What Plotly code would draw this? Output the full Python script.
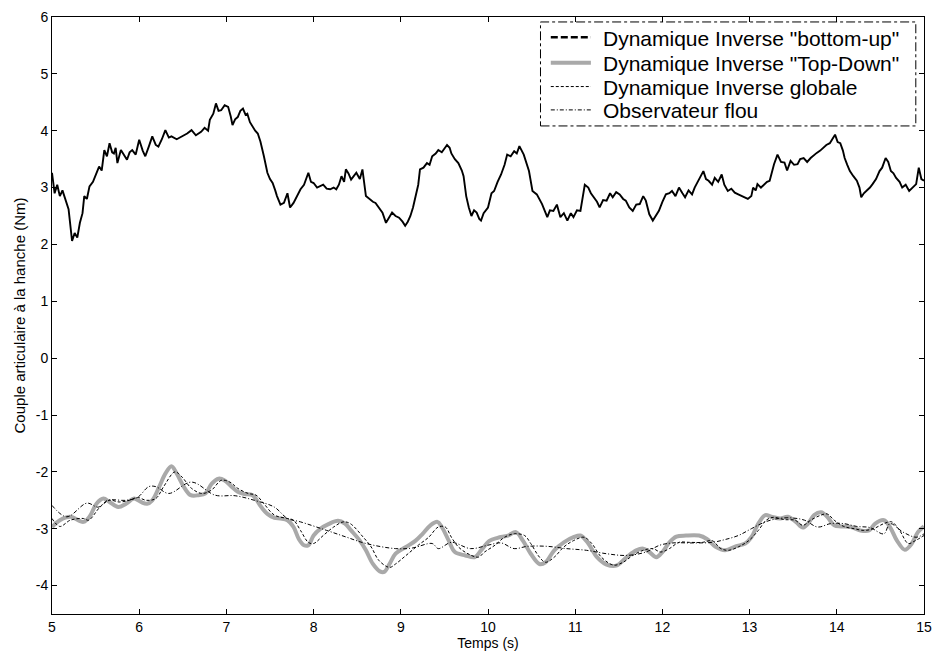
import plotly.graph_objects as go

# ---------------- data ----------------
bu_t = [5.00,5.03,5.06,5.09,5.12,5.15,5.19,5.23,5.26,5.29,5.32,5.35,5.37,5.40,5.43,5.47,5.51,5.54,5.57,5.60,
        5.63,5.66,5.69,5.71,5.73,5.75,5.79,5.83,5.86,5.89,5.92,5.96,6.00,6.04,6.07,6.11,6.15,6.19,6.22,6.26,
        6.30,6.34,6.37,6.43,6.49,6.55,6.60,6.65,6.71,6.75,6.79,6.81,6.85,6.88,6.91,6.94,6.98,7.02,7.05,7.07,
        7.10,7.13,7.16,7.19,7.22,7.24,7.27,7.30,7.33,7.36,7.39,7.43,7.47,7.50,7.53,7.56,7.58,7.62,7.66,7.70,
        7.73,7.77,7.81,7.85,7.89,7.94,7.97,8.00,8.04,8.07,8.11,8.15,8.19,8.23,8.26,8.29,8.32,8.35,8.37,8.40,
        8.43,8.46,8.49,8.53,8.56,8.60,8.64,8.68,8.71,8.75,8.79,8.83,8.86,8.90,8.94,8.98,9.02,9.05,9.08,9.11,
        9.14,9.17,9.20,9.22,9.26,9.30,9.33,9.36,9.40,9.43,9.47,9.53,9.56,9.58,9.62,9.66,9.70,9.72,9.75,9.78,
        9.81,9.84,9.87,9.90,9.92,9.95,10.00,10.04,10.07,10.11,10.15,10.19,10.22,10.26,10.30,10.33,10.36,10.41,10.47,10.51,
        10.56,10.62,10.68,10.71,10.75,10.79,10.83,10.87,10.91,10.95,10.98,11.02,11.06,11.11,11.15,11.18,11.21,11.25,11.28,11.32,
        11.36,11.40,11.43,11.47,11.51,11.55,11.58,11.62,11.66,11.70,11.74,11.78,11.81,11.85,11.89,11.92,11.96,12.00,12.04,12.08,
        12.11,12.15,12.19,12.23,12.26,12.30,12.34,12.37,12.41,12.44,12.47,12.50,12.53,12.57,12.60,12.64,12.68,12.71,12.75,12.79,
        12.83,12.87,12.91,12.95,12.98,13.02,13.04,13.07,13.09,13.13,13.17,13.20,13.23,13.26,13.28,13.32,13.36,13.40,13.43,13.47,
        13.51,13.55,13.58,13.62,13.66,13.70,13.74,13.77,13.81,13.85,13.88,13.92,13.95,13.98,14.01,14.04,14.07,14.09,14.12,14.15,
        14.19,14.23,14.26,14.28,14.31,14.34,14.38,14.41,14.45,14.49,14.52,14.56,14.59,14.62,14.65,14.68,14.72,14.75,14.79,14.83,
        14.87,14.91,14.94,14.97,15.00]
bu_v = [3.26,2.90,3.05,2.85,2.95,2.79,2.62,2.06,2.20,2.12,2.38,2.55,2.85,2.80,3.02,3.10,3.26,3.37,3.30,3.66,
        3.55,3.78,3.62,3.60,3.70,3.43,3.66,3.55,3.49,3.62,3.66,3.58,3.84,3.65,3.55,3.72,3.90,3.75,3.72,3.85,
        4.01,3.88,3.90,3.85,3.90,3.95,4.01,3.92,3.98,4.05,4.00,4.19,4.30,4.48,4.35,4.36,4.45,4.42,4.25,4.10,
        4.20,4.24,4.35,4.39,4.28,4.30,4.15,4.07,4.00,3.95,3.81,3.55,3.26,3.15,3.08,2.95,2.85,2.70,2.73,2.90,
        2.65,2.73,2.85,2.97,3.05,3.26,3.10,3.08,3.00,3.02,3.05,2.98,2.97,3.00,2.97,3.05,3.20,3.10,3.32,3.25,
        3.14,3.20,3.26,3.15,3.32,2.85,2.80,2.75,2.73,2.65,2.56,2.38,2.45,2.56,2.50,2.47,2.40,2.33,2.40,2.50,
        2.65,2.85,3.05,3.32,3.35,3.43,3.40,3.55,3.60,3.66,3.62,3.75,3.70,3.60,3.50,3.43,3.30,3.20,2.85,2.65,
        2.50,2.60,2.56,2.45,2.42,2.55,2.65,2.90,2.94,3.10,3.23,3.40,3.58,3.55,3.64,3.60,3.73,3.58,3.29,2.94,
        2.88,2.71,2.48,2.60,2.59,2.70,2.48,2.55,2.42,2.55,2.48,2.60,2.59,3.05,3.00,2.90,2.83,2.75,2.65,2.78,
        2.77,2.90,2.83,2.92,2.88,2.80,2.77,2.65,2.59,2.70,2.71,2.85,2.77,2.53,2.42,2.50,2.59,2.75,2.88,2.90,
        2.94,2.85,3.00,2.90,2.83,2.95,2.88,3.00,3.12,3.20,3.29,3.15,3.12,3.05,3.17,3.10,3.23,3.05,2.94,2.98,
        2.91,2.88,2.85,2.82,2.80,2.85,3.00,2.95,3.06,3.00,3.06,3.10,3.12,3.30,3.41,3.58,3.45,3.44,3.30,3.47,
        3.40,3.41,3.50,3.52,3.45,3.52,3.58,3.61,3.65,3.70,3.75,3.78,3.85,3.93,3.80,3.78,3.65,3.52,3.40,3.29,
        3.20,3.12,3.00,2.83,2.90,2.94,3.00,3.06,3.15,3.29,3.35,3.52,3.45,3.29,3.25,3.17,3.10,3.00,3.05,2.94,
        3.00,3.06,3.35,3.15,3.12]

td_t = [5.00,5.09,5.21,5.36,5.43,5.51,5.59,5.66,5.76,5.85,5.94,6.02,6.09,6.15,6.23,6.30,6.37,6.43,6.51,6.59,
        6.68,6.76,6.83,6.91,6.98,7.06,7.13,7.21,7.30,7.40,7.47,7.55,7.62,7.70,7.77,7.83,7.89,7.94,8.00,8.08,
        8.17,8.28,8.36,8.43,8.53,8.60,8.68,8.76,8.81,8.87,8.94,9.06,9.17,9.25,9.34,9.42,9.47,9.55,9.62,9.74,
        9.85,9.92,10.02,10.11,10.23,10.32,10.40,10.49,10.59,10.66,10.76,10.87,10.98,11.06,11.15,11.25,11.36,11.47,11.59,11.70,
        11.78,11.85,11.93,12.00,12.08,12.16,12.27,12.42,12.51,12.61,12.72,12.84,12.95,13.02,13.10,13.18,13.25,13.35,13.44,13.53,
        13.61,13.67,13.74,13.82,13.89,13.97,14.05,14.16,14.27,14.37,14.44,14.54,14.61,14.69,14.78,14.86,14.93,15.00]
td_v = [-2.97,-2.85,-2.79,-2.88,-2.79,-2.56,-2.47,-2.53,-2.62,-2.56,-2.47,-2.53,-2.56,-2.50,-2.26,-2.03,-1.90,-2.03,-2.26,-2.41,
        -2.41,-2.38,-2.21,-2.12,-2.15,-2.26,-2.35,-2.39,-2.41,-2.62,-2.74,-2.81,-2.82,-2.85,-2.97,-3.18,-3.29,-3.29,-3.12,-3.00,
        -2.92,-2.86,-2.91,-3.03,-3.21,-3.38,-3.62,-3.75,-3.76,-3.62,-3.44,-3.32,-3.21,-3.09,-2.94,-2.88,-2.97,-3.21,-3.41,-3.47,
        -3.50,-3.38,-3.21,-3.16,-3.12,-3.06,-3.21,-3.44,-3.62,-3.59,-3.38,-3.24,-3.15,-3.12,-3.26,-3.50,-3.63,-3.65,-3.50,-3.38,
        -3.35,-3.41,-3.50,-3.41,-3.24,-3.14,-3.12,-3.12,-3.18,-3.32,-3.38,-3.31,-3.26,-3.15,-2.91,-2.76,-2.79,-2.82,-2.79,-2.88,
        -2.98,-2.91,-2.76,-2.71,-2.79,-2.94,-2.96,-2.97,-3.03,-3.03,-2.91,-2.85,-2.97,-3.21,-3.37,-3.26,-3.06,-2.96]

gl_t = [5.00,5.09,5.21,5.36,5.42,5.55,5.66,5.77,5.89,5.98,6.08,6.19,6.28,6.41,6.49,6.60,6.72,6.83,6.94,7.04,
        7.13,7.25,7.34,7.43,7.55,7.70,7.77,7.85,7.94,8.00,8.11,8.23,8.34,8.42,8.57,8.66,8.75,8.87,8.94,9.06,
        9.20,9.32,9.43,9.51,9.58,9.66,9.77,9.89,9.96,10.08,10.19,10.30,10.42,10.49,10.59,10.66,10.76,10.87,10.98,11.10,
        11.19,11.30,11.44,11.55,11.66,11.78,11.89,11.98,12.08,12.19,12.31,12.46,12.57,12.67,12.76,12.87,12.99,13.10,13.19,13.27,
        13.40,13.52,13.61,13.70,13.82,13.89,13.97,14.08,14.20,14.31,14.42,14.54,14.63,14.72,14.82,14.90,15.00]
gl_v = [-2.82,-2.96,-2.85,-2.82,-2.85,-2.62,-2.50,-2.53,-2.50,-2.45,-2.50,-2.47,-2.26,-2.00,-2.09,-2.29,-2.38,-2.32,-2.15,-2.18,
        -2.29,-2.38,-2.41,-2.56,-2.76,-2.82,-2.85,-3.03,-3.24,-3.26,-3.12,-2.97,-2.88,-2.91,-3.15,-3.32,-3.56,-3.68,-3.62,-3.47,
        -3.29,-3.15,-2.97,-2.97,-3.15,-3.32,-3.44,-3.50,-3.41,-3.29,-3.15,-3.09,-3.12,-3.26,-3.50,-3.59,-3.50,-3.32,-3.21,-3.15,
        -3.26,-3.50,-3.64,-3.59,-3.47,-3.38,-3.35,-3.41,-3.35,-3.24,-3.24,-3.24,-3.21,-3.35,-3.38,-3.32,-3.21,-3.03,-2.85,-2.80,
        -2.84,-2.85,-2.94,-2.85,-2.76,-2.74,-2.85,-2.96,-3.00,-3.03,-3.00,-2.91,-2.88,-3.03,-3.26,-3.21,-3.12]

fl_t = [5.00,5.17,5.40,5.53,5.64,5.85,5.98,6.11,6.19,6.34,6.60,6.87,7.10,7.32,7.55,7.70,7.85,8.15,8.38,8.60,
        8.94,9.13,9.36,9.43,9.58,9.80,10.00,10.15,10.30,10.45,10.68,10.90,11.13,11.36,11.59,11.81,11.97,12.12,12.34,12.57,
        12.72,12.87,13.02,13.18,13.33,13.48,13.63,13.78,13.93,14.08,14.23,14.38,14.54,14.61,14.76,14.91,15.00]
fl_v = [-2.59,-2.79,-2.55,-2.62,-2.50,-2.50,-2.45,-2.26,-2.26,-2.38,-2.18,-2.41,-2.42,-2.50,-2.62,-2.82,-2.88,-3.03,-3.15,-3.26,
        -3.35,-3.34,-3.26,-3.35,-3.24,-3.35,-3.29,-3.25,-3.35,-3.31,-3.31,-3.35,-3.38,-3.44,-3.47,-3.41,-3.29,-3.25,-3.25,-3.24,
        -3.19,-3.12,-3.00,-2.88,-2.82,-2.81,-2.85,-2.97,-2.91,-2.91,-2.96,-2.98,-3.09,-2.91,-3.06,-3.15,-3.09]

names = ['Dynamique Inverse "bottom-up"', 'Dynamique Inverse "Top-Down"',
         'Dynamique Inverse globale', 'Observateur flou']
x_ticks = [5, 6, 7, 8, 9, 10, 11, 12, 13, 14, 15]
y_ticks = [-4, -3, -2, -1, 0, 1, 2, 3, 4, 5, 6]

FONT = "Liberation Sans, Arial, sans-serif"
GRAY = "#a9a9a9"

styles = [dict(color="black", width=2.5, dash="7px,3px"),
          dict(color=GRAY, width=4),
          dict(color="black", width=1, dash="3px,2px"),
          dict(color="black", width=1, dash="4px,2px,1px,2px")]

fig = go.Figure()
fig.add_trace(go.Scatter(x=td_t, y=td_v, mode="lines", name=names[1], line_shape="spline",
                         line=styles[1]))
fig.add_trace(go.Scatter(x=gl_t, y=gl_v, mode="lines", name=names[2], line_shape="spline",
                         line=styles[2]))
fig.add_trace(go.Scatter(x=fl_t, y=fl_v, mode="lines", name=names[3], line_shape="spline",
                         line=styles[3]))
fig.add_trace(go.Scatter(x=bu_t, y=bu_v, mode="lines", name=names[0],
                         line=dict(color="black", width=1.9)))

axis_common = dict(showline=True, linecolor="black", linewidth=1, mirror="ticks",
                   ticks="inside", ticklen=5, tickcolor="black", showgrid=False, zeroline=False,
                   tickfont=dict(family=FONT, size=14, color="black"))
fig.update_xaxes(range=[5, 15], tickvals=x_ticks, ticktext=[str(v) for v in x_ticks],
                 title=dict(text="Temps (s)", font=dict(family=FONT, size=14, color="black"), standoff=3),
                 **axis_common)
fig.update_yaxes(range=[-4.5, 6], tickvals=y_ticks, ticktext=[str(v) for v in y_ticks],
                 title=dict(text="Couple articulaire à la hanche (Nm)", font=dict(family=FONT, size=15, color="black"), standoff=6),
                 **axis_common)

# Manual legend box (dash-dot frame, as in the reference)
row_line_y = [0.9659, 0.9235, 0.8835, 0.8444]
row_text_y = [0.9634, 0.9226, 0.8827, 0.8428]
shapes = [dict(type="rect", xref="paper", yref="paper", x0=0.5602, x1=0.9906, y0=0.8175, y1=0.9917,
               fillcolor="white", line=dict(color="black", width=1, dash="dashdot"), layer="above")]
annotations = []
for nm, st, ly, ty in zip(names, styles, row_line_y, row_text_y):
    shapes.append(dict(type="line", xref="paper", yref="paper", x0=0.572, x1=0.618, y0=ly, y1=ly,
                       line=st, layer="above"))
    annotations.append(dict(xref="paper", yref="paper", x=0.6297, y=ty, xanchor="left", yanchor="middle",
                            text=nm, showarrow=False, font=dict(family=FONT, size=21, color="black")))

fig.update_layout(
    width=941, height=657,
    margin=dict(l=52, r=9, t=13, b=43),
    plot_bgcolor="white", paper_bgcolor="white",
    font=dict(family=FONT, color="black"),
    showlegend=False,
    shapes=shapes,
    annotations=annotations,
)

fig.write_html("out.html", config={"displayModeBar": False},
               post_script="document.body.style.margin='0px';")
